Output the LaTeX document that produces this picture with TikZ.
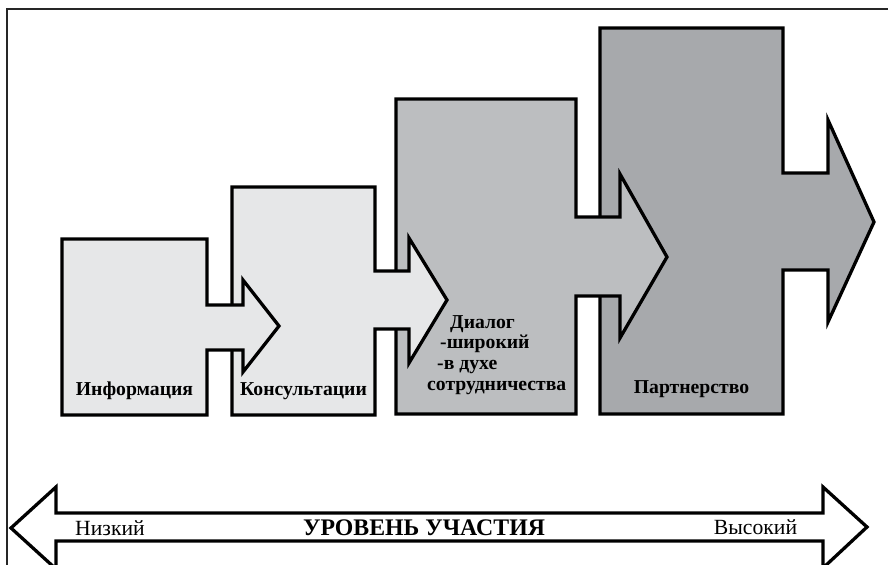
\documentclass[tikz,border=0pt]{standalone}
\usepackage{fontspec}
\setmainfont{Liberation Serif}
\usepackage{tikz}
\usepackage{xcolor}
\usetikzlibrary{positioning, calc}

\definecolor{stepA}{HTML}{E6E7E8}
\definecolor{stepB}{HTML}{BCBEC0}
\definecolor{stepC}{HTML}{A7A9AC}

\begin{document}
\begin{tikzpicture}[
    x=0.03cm, y=-0.03cm,
    stepshape/.style={draw=black, line width=2.8pt, line join=miter, miter limit=10},
    frame/.style={draw=black!85, line width=1.6pt},
    label/.style={inner sep=0, anchor=base, font=\fontsize{16.8}{17.6}\selectfont\bfseries},
    scale text/.style={inner sep=0, anchor=base, font=\fontsize{18.5}{20}\selectfont},
    scale title/.style={inner sep=0, anchor=base, font=\fontsize{20.3}{22}\selectfont\bfseries}
]
\useasboundingbox (0,0) rectangle (888,565);

% Frame
\draw[frame] (7,570) -- (7,9) -- (890,9);

% Steps (last first, so each arrow lies on the next box)
\draw[stepshape, fill=stepC] (600,28) -- (783,28) -- (783,173) -- (828,173) -- (828,120) -- (874,222)
    -- (828,322) -- (828,270) -- (783,270) -- (783,414) -- (600,414) -- cycle;
\draw[stepshape, fill=stepB] (396,99) -- (576,99) -- (576,217) -- (620,217) -- (620,174) -- (667,257)
    -- (620,338) -- (620,296) -- (576,296) -- (576,414) -- (396,414) -- cycle;
\draw[stepshape, fill=stepA] (232,187) -- (375,187) -- (375,271) -- (409,271) -- (409,238) -- (447,300)
    -- (409,363) -- (409,329) -- (375,329) -- (375,415) -- (232,415) -- cycle;
\draw[stepshape, fill=stepA] (62,239) -- (207,239) -- (207,305) -- (243,305) -- (243,280) -- (279,326)
    -- (243,372) -- (243,350) -- (207,350) -- (207,415) -- (62,415) -- cycle;

% Step labels
\node[label] (info) at (134.5,395) {Информация};
\node[label] (consult) at (303.5,395) {Консультации};
\node[label, anchor=base west, align=left] (dialog) at (427,390)
    {\hspace*{0.69cm}Диалог\\\hspace*{0.39cm}-широкий\\\hspace*{0.3cm}-в духе\\сотрудничества};
\node[label] (partner) at (691.5,393) {Партнерство};

% Level arrow
\draw[stepshape, fill=white] (11,528) -- (56,487) -- (56,513) -- (823,513) -- (823,487) -- (867,527)
    -- (823,568) -- (823,541) -- (56,541) -- (56,569) -- cycle;
\node[scale text] (low) at (110,535) {Низкий};
\node[scale title] (level) at (424,535) {УРОВЕНЬ УЧАСТИЯ};
\node[scale text] (high) at (755.5,534) {Высокий};

\end{tikzpicture}
\end{document}
